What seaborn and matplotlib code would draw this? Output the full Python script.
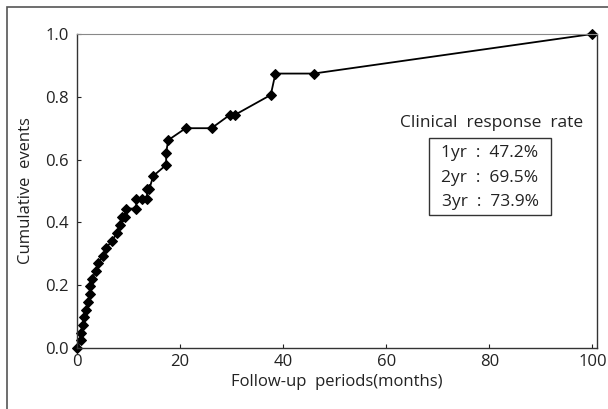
import numpy as np
import pandas as pd
import seaborn as sns
import matplotlib.pyplot as plt
from matplotlib.patches import Rectangle

# values
months = [0, 0.7, 0.7, 1.1, 1.4, 1.7, 2.1, 2.5, 2.6, 2.9, 3.7, 4.0, 5.1, 5.6, 6.8,
          7.8, 8.3, 8.7, 9.4, 9.6, 11.5, 11.5, 12.6, 13.6, 13.6, 14.0, 14.8,
          17.3, 17.3, 17.7, 21.1, 26.1, 29.7, 30.7, 37.6, 38.5, 45.9, 100]
cum_events = [0, 0.024, 0.049, 0.073, 0.098, 0.121, 0.145, 0.172, 0.197, 0.22,
              0.246, 0.27, 0.293, 0.317, 0.342, 0.367, 0.392, 0.418, 0.418,
              0.444, 0.444, 0.476, 0.476, 0.476, 0.505, 0.505, 0.548,
              0.583, 0.622, 0.662, 0.70, 0.70, 0.743, 0.743, 0.806, 0.874, 0.874, 1.0]

rate_title = "Clinical  response  rate"
rate_lines = ["1yr  :  47.2%", "2yr  :  69.5%", "3yr  :  73.9%"]

df = pd.DataFrame({"month": months, "cum": cum_events})

sns.set_style("ticks")
plt.rcParams['font.family'] = ['Open Sans', 'DejaVu Sans']

fig = plt.figure(figsize=(6.08, 4.09), dpi=100)
ax = fig.add_axes([77/608, 61/409, 520/608, 314/409])

sns.lineplot(data=df, x="month", y="cum", estimator=None, sort=False,
             marker="D", markersize=5.5, color="black", linewidth=1.3,
             markeredgecolor="black", ax=ax)

ax.set_xlim(0, 100.9)
ax.set_ylim(0, 1.0)
ax.set_xticks([0, 20, 40, 60, 80, 100])
ax.set_yticks([0, 0.2, 0.4, 0.6, 0.8, 1.0])
ax.set_yticklabels(["0.0", "0.2", "0.4", "0.6", "0.8", "1.0"])
ax.tick_params(direction="in", length=3, width=0.8, labelsize=12, colors="#222222")
ax.tick_params(axis="x", pad=4)
ax.tick_params(axis="y", pad=6)
for s in ["left", "bottom", "right"]:
    ax.spines[s].set_color("#333333")
    ax.spines[s].set_linewidth(1.0)
ax.spines["top"].set_color("#888888")
ax.spines["top"].set_linewidth(0.8)
ax.set_xlabel("Follow-up  periods(months)", fontsize=12, color="#222222", labelpad=3)
ax.set_ylabel("Cumulative  events", fontsize=12, color="#222222", labelpad=8)
ax.lines[0].set_clip_on(False)

# response rate box
fig.text(492/608, 1 - 123/409, rate_title, fontsize=12.5, color="#222222",
         ha="center", va="center")
fig.add_artist(Rectangle((429/608, 1 - 215/409), 122/608, 77/409,
                         transform=fig.transFigure, fill=False,
                         edgecolor="#333333", linewidth=1.0))
for i, t in enumerate(rate_lines):
    fig.text(490/608, 1 - (153 + 24.5*i)/409, t, fontsize=12.5, color="#222222",
             ha="center", va="center")

# outer frame of the scanned figure
fig.add_artist(Rectangle((7/608, -0.1), 1.1, 1 - 7/409 + 0.1,
                         transform=fig.transFigure, fill=False,
                         edgecolor="#555555", linewidth=1.2))

fig.savefig("out.png", dpi=100)
